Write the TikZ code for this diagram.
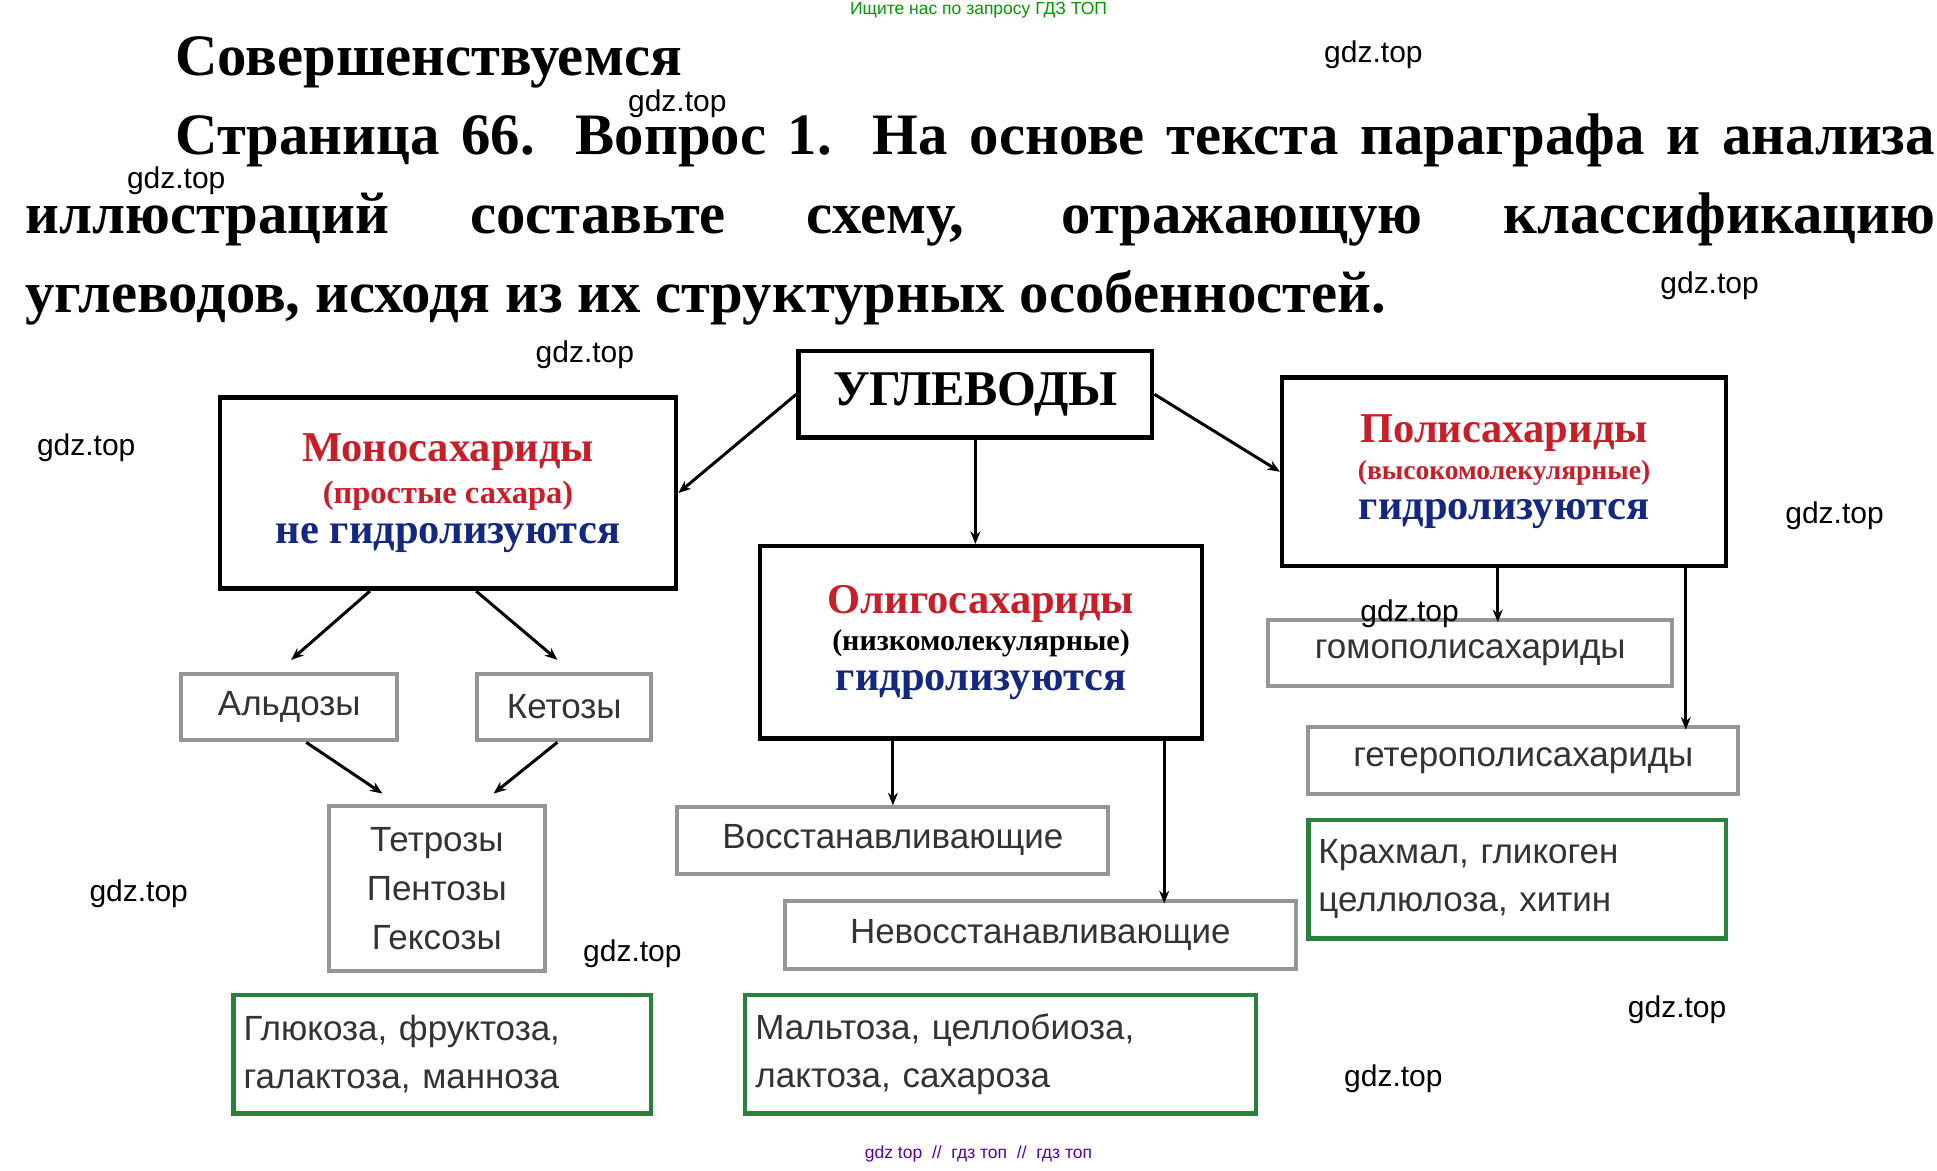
\documentclass[tikz,border=0pt]{standalone}
\usepackage{fontspec}
\setmainfont{Liberation Serif}
\newfontfamily\sansf{Liberation Sans}
\usetikzlibrary{arrows.meta}
\definecolor{rd}{RGB}{200,30,40}
\definecolor{bl}{RGB}{20,40,130}
\definecolor{gr}{RGB}{40,130,60}
\definecolor{gy}{RGB}{150,150,150}
\begin{document}
\begin{tikzpicture}[x=0.5pt,y=-0.5pt,
  sz/.style 2 args={minimum width=#1*0.5pt,minimum height=#2*0.5pt},
  bx/.style={draw,line width=1.8pt,inner sep=0pt,align=center},
  gbox/.style={draw=gy,line width=1.6pt,inner sep=0pt,align=center,font=\sansf\fontsize{14}{18}\selectfont,text=black!80},
  grbox/.style={draw=gr,line width=1.8pt,inner sep=0pt,align=left,font=\sansf\fontsize{14}{19}\selectfont,text=black!80},
  wm/.style={font=\sansf\fontsize{12}{14}\selectfont},
  ar/.style={-{Stealth[length=5pt,width=4pt]},line width=1.2pt},
  big/.style={font=\bfseries\fontsize{23.5}{28}\selectfont}]
\useasboundingbox (0,0) rectangle (1550,937);
\fill[white] (0,0) rectangle (1550,937);
\node[font=\sansf\fontsize{7}{8}\selectfont,text=green!60!black] (top) at (783,8) {Ищите нас по запросу ГДЗ ТОП};
\node[big,anchor=west,inner sep=0pt] (t0) at (140,50) {Совершенствуемся};
\node[big,anchor=west,inner sep=0pt] (t1) at (140,112) {\makebox[704pt][s]{Страница 66. Вопрос 1. На основе текста параграфа и анализа}};
\node[big,anchor=west,inner sep=0pt] (t2) at (20,176) {\makebox[764pt][s]{иллюстраций составьте схему, отражающую классификацию}};
\node[big,anchor=west,inner sep=0pt] (t3) at (20,238) {углеводов, исходя из их структурных особенностей.};

\node[bx,sz={283}{69},font=\bfseries\fontsize{20}{24}\selectfont] (u) at (780.5,315.5) {УГЛЕВОДЫ};
\node[bx,sz={365}{153}] (mono) at (358.5,394.5) {{\color{rd}\fontsize{17}{20}\selectfont\bfseries Моносахариды}\\[3pt]{\color{rd}\fontsize{13}{16}\selectfont\bfseries (простые сахара)}\\[4pt]{\color{bl}\fontsize{17}{20}\selectfont\bfseries не гидролизуются}};
\node[bx,sz={355}{151}] (poly) at (1203.5,377.5) {{\color{rd}\fontsize{17}{20}\selectfont\bfseries Полисахариды}\\[3pt]{\color{rd}\fontsize{11}{14}\selectfont\bfseries (высокомолекулярные)}\\[4pt]{\color{bl}\fontsize{17}{20}\selectfont\bfseries гидролизуются}};
\node[bx,sz={354}{154}] (oligo) at (785,514) {{\color{rd}\fontsize{17}{20}\selectfont\bfseries Олигосахариды}\\[3pt]{\fontsize{12}{15}\selectfont\bfseries (низкомолекулярные)}\\[4pt]{\color{bl}\fontsize{17}{20}\selectfont\bfseries гидролизуются}};

\node[gbox,sz={173}{53}] (ald) at (231.5,565.5) {Альдозы};
\node[gbox,sz={139}{53}] (ket) at (451.5,565.5) {Кетозы};
\node[gbox,sz={173}{132},font=\sansf\fontsize{14}{19.5}\selectfont] (tet) at (349.5,711) {Тетрозы\\Пентозы\\Гексозы};
\node[gbox,sz={345}{53}] (vos) at (714.5,672.5) {Восстанавливающие};
\node[gbox,sz={409}{54}] (nev) at (832.5,748) {Невосстанавливающие};
\node[gbox,sz={323}{53}] (hom) at (1176.5,522.5) {гомополисахариды};
\node[gbox,sz={344}{53}] (het) at (1219,608.5) {гетерополисахариды};
\node[grbox,sz={334}{95},text width=159pt] (kr) at (1214,703.5) {Крахмал, гликоген\\целлюлоза, хитин};
\node[grbox,sz={334}{95},text width=159pt] (gl) at (354,843.5) {Глюкоза, фруктоза,\\галактоза, манноза};
\node[grbox,sz={409}{95},text width=196pt] (mal) at (800.5,843.5) {Мальтоза, целлобиоза,\\лактоза, сахароза};

\draw[ar] (u.west) -- (mono.east);
\draw[ar] (u.east) -- (poly.west);
\draw[ar] (u.south) -- (u.south |- oligo.north);
\draw[ar] (296,473) -- (233,528);
\draw[ar] (381,473) -- (446,528);
\draw[ar] (245,594) -- (306,635);
\draw[ar] (446,594) -- (395,635);
\draw[ar] (oligo.south -| vos.north) -- (vos.north);
\draw[ar] (oligo.south -| nev.north east) ++(-107,0) -- ++(0,130);
\draw[ar] (poly.south -| hom.north) ++(22,0) -- ++(0,43);
\draw[ar] (poly.south -| het.north) ++(130,0) -- ++(0,129);

\foreach \x/\y [count=\i] in {1099/44,542/83,141/145,1368/229,468/284,69/358,1468/413,1128/491,111/715,506/763,1342/808,1115/863}
  \node[wm] (w\i) at (\x,\y) {gdz.top};
\node[font=\sansf\fontsize{7}{8}\selectfont,text=violet!70!blue,anchor=south] (bot) at (783,937) {gdz top \ // \ гдз топ \ // \ гдз топ};
\end{tikzpicture}
\end{document}
